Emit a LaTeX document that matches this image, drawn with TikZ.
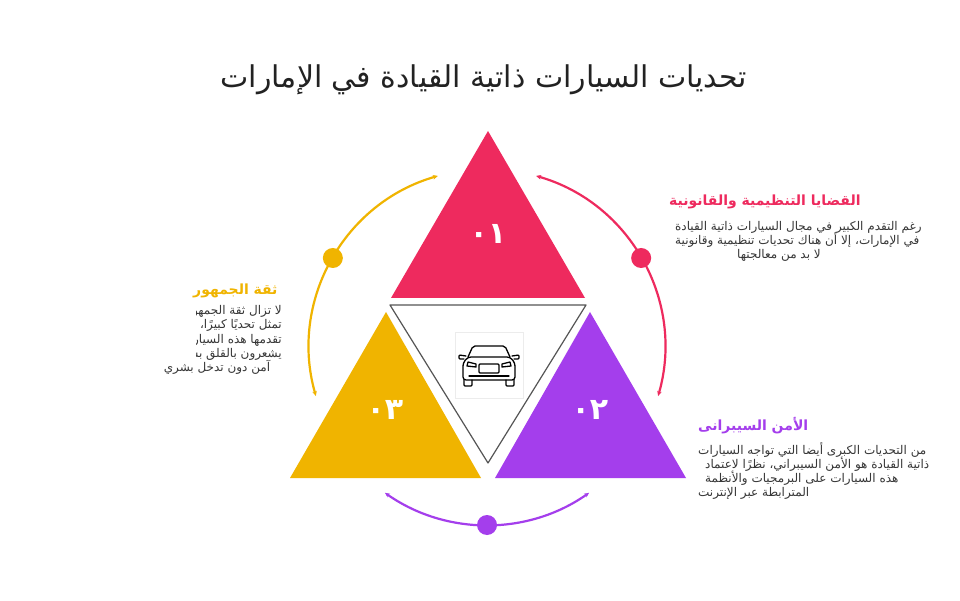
\documentclass[tikz,border=0pt]{standalone}
\usepackage{fontspec}
\setmainfont{DejaVu Sans}
\newfontfamily\arabicfont[Script=Arabic]{DejaVu Sans}
\TeXXeTstate=1
\newcommand{\tightlines}{\lineskiplimit-20pt\relax}
\usetikzlibrary{arrows.meta}
\definecolor{pinkA}{RGB}{238,42,94}
\definecolor{purpleA}{RGB}{164,62,236}
\definecolor{yellowA}{RGB}{240,180,0}
\definecolor{textgray}{RGB}{55,55,55}
\definecolor{titlegray}{RGB}{34,34,34}
\definecolor{edgegray}{RGB}{85,85,85}

\begin{document}
\begin{tikzpicture}[x=1pt,y=1pt,
    heading/.style={anchor=west,inner sep=0pt,font=\arabicfont\bfseries\fontsize{14}{17}\selectfont},
    body/.style={anchor=north west,inner sep=0pt,align=left,text=textgray,font=\arabicfont\fontsize{12}{14}\selectfont\tightlines},
    bodyline/.style={inner sep=0pt,text=textgray,font=\arabicfont\fontsize{12}{14}\selectfont},
    num/.style={text=white,inner sep=0pt,font=\arabicfont\bfseries\fontsize{30}{36}\selectfont},
    ring/.style={line width=2.2pt,{Stealth[length=5pt,width=4.5pt]}-{Stealth[length=5pt,width=4.5pt]}},
    carline/.style={line width=1.3pt,line join=round,line cap=round}] %Retos de los coches autonomos
        \fill[white] (0,0) rectangle (960,600);
        \useasboundingbox (0,0) rectangle (960,600);

        \node[text=titlegray,font=\arabicfont\fontsize{30}{36}\selectfont] (title) at (484,520) {\beginR تحديات السيارات ذاتية القيادة في الإمارات\endR};

        \coordinate (P1) at (488,469);
        \coordinate (P2) at (391,302);
        \coordinate (P3) at (585,302);
        \coordinate (C1) at (390,295);
        \coordinate (C2) at (586,295);
        \coordinate (C3) at (488,137);
        \coordinate (Y1) at (386,288);
        \coordinate (Y2) at (290,122);
        \coordinate (Y3) at (481,122);
        \coordinate (V1) at (590,288);
        \coordinate (V2) at (495,122);
        \coordinate (V3) at (686,122);

        \fill[color=pinkA] (P1) -- (P2) -- (P3) -- cycle;
        \fill[color=yellowA] (Y1) -- (Y2) -- (Y3) -- cycle;
        \fill[color=purpleA] (V1) -- (V2) -- (V3) -- cycle;
        \filldraw[fill=white, draw=edgegray, line width=1.2pt, line join=round] (C1) -- (C2) -- (C3) -- cycle;

        \node[num] (n1) at (488,366) {٠١};
        \node[num] (n2) at (590,190) {٠٢};
        \node[num] (n3) at (385,190) {٠٣};

        \coordinate (O) at (487,253);
        \draw[ring, yellowA] ([shift=(106:178)]O) arc[start angle=106, end angle=196, radius=178];
        \draw[ring, pinkA] ([shift=(74:178)]O) arc[start angle=74, end angle=-16, radius=178];
        \draw[ring, purpleA] ([shift=(235:178)]O) arc[start angle=235, end angle=305, radius=178];
        \fill[yellowA] ([shift=(150:178)]O) circle (10);
        \fill[pinkA] ([shift=(30:178)]O) circle (10);
        \fill[purpleA] ([shift=(270:178)]O) circle (10);

        % car
        \draw[gray!15, line width=0.6pt] (455,268) rectangle (523,202);
        \coordinate (car) at (489,235);
        \begin{scope}[shift={(car)}, carline]
            \draw[rounded corners=2pt] (-21,8) -- (-16,19) -- (16,19) -- (21,8);
            \draw[rounded corners=3pt] (-26,-15) -- (-26,2) -- (-21,8) -- (21,8) -- (26,2) -- (26,-15) -- cycle;
            \draw[rounded corners=1pt] (-25,-15) -- (-25,-21) -- (-17,-21) -- (-17,-15);
            \draw[rounded corners=1pt] (17,-15) -- (17,-21) -- (25,-21) -- (25,-15);
            \draw[rounded corners=1pt] (-23,9) -- (-30,10) -- (-30,6) -- (-25,6);
            \draw[rounded corners=1pt] (23,9) -- (30,10) -- (30,6) -- (25,6);
            \draw (-22,-1) -- (-13,-2) -- (-13,1) -- (-21,3) -- cycle;
            \draw (22,-1) -- (13,-2) -- (13,1) -- (21,3) -- cycle;
            \draw[rounded corners=1pt] (-10,-8) rectangle (10,1);
            \draw (-20,-11) -- (20,-11);
        \end{scope}

        \node[heading, text=pinkA] (headPink) at (669,398) {\beginR القضايا التنظيمية والقانونية\endR};
        \node[body] (bodyPink) at (675,379) {\beginR رغم التقدم الكبير في مجال السيارات ذاتية القيادة\endR\\
            \beginR في الإمارات، إلا أن هناك تحديات تنظيمية وقانونية\endR\\
            \hspace*{62pt}\beginR لا بد من معالجتها\endR};

        \node[heading, text=yellowA] (headYellow) at (193,309) {\beginR ثقة الجمهور\endR};
        \begin{scope}
            \clip (196,240) rectangle (290,300);
            \node[bodyline, anchor=east] (yl1) at (282,289) {\beginR لا تزال ثقة الجمهور في السيارات ذاتية القيادة\endR};
            \node[bodyline, anchor=east] (yl2) at (282,275) {\beginR تمثل تحديًا كبيرًا، على الرغم من الفوائد التي\endR};
            \node[bodyline, anchor=east] (yl3) at (282,261) {\beginR تقدمها هذه السيارات، إلا أن العديد من الأفراد\endR};
            \node[bodyline, anchor=east] (yl4) at (282,247) {\beginR يشعرون بالقلق بشأن قدرتها على القيادة بشكل\endR};
        \end{scope}
        \node[bodyline] (yl5) at (217,233) {\beginR آمن دون تدخل بشري\endR};

        \node[heading, text=purpleA] (headPurple) at (698,174) {\beginR الأمن السيبرانى\endR};
        \node[body] (bodyPurple) at (698,158) {\beginR من التحديات الكبرى أيضا التي تواجه السيارات\endR\\
            \hspace*{7pt}\beginR ذاتية القيادة هو الأمن السيبراني، نظرًا لاعتماد\endR\\
            \hspace*{7pt}\beginR هذه السيارات على البرمجيات والأنظمة\endR\\
            \beginR المترابطة عبر الإنترنت\endR};
    \end{tikzpicture}
\end{document}
